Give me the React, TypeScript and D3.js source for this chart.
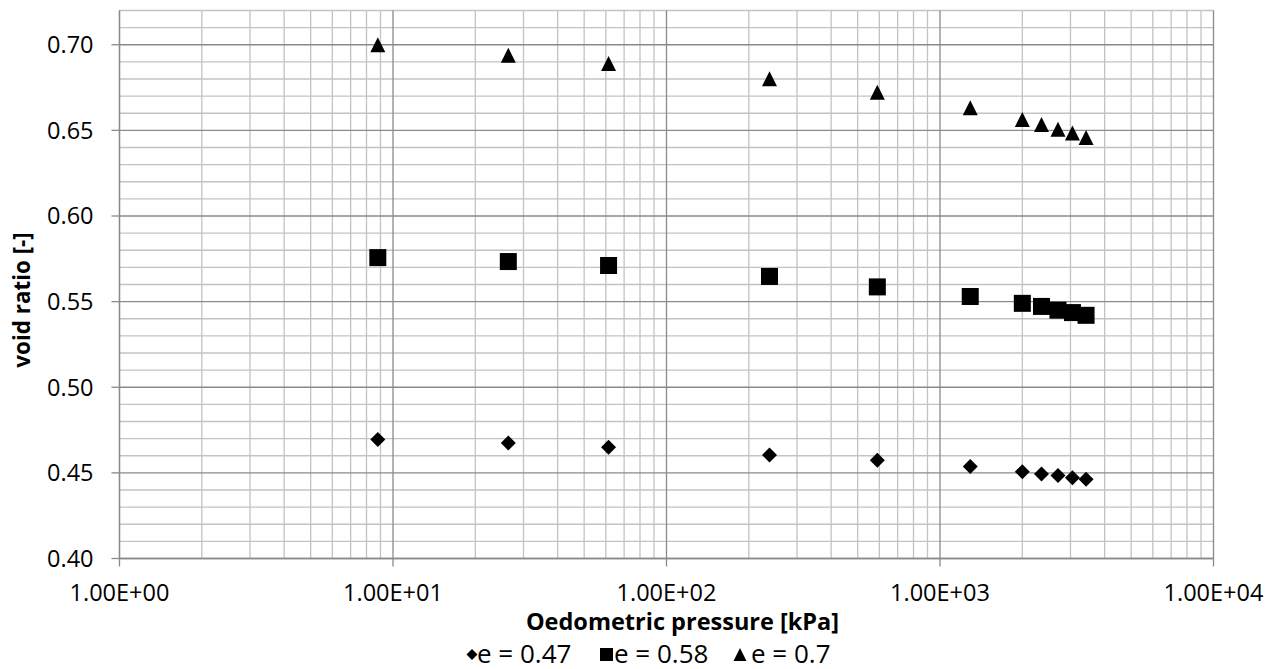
import React from "react";
import * as d3 from "d3";

// Oedometer loading steps [kPa]
const pressures = [8.8, 26.4, 61.4, 238, 590, 1290, 2000, 2350, 2700, 3050, 3420];

// Void ratio per loading step for each initial void ratio
const voidRatio047 = [0.4695, 0.4674, 0.465, 0.4605, 0.4574, 0.4537, 0.4507, 0.4494, 0.4485, 0.4472, 0.4463];
const voidRatio058 = [0.5757, 0.5734, 0.5711, 0.5647, 0.5586, 0.553, 0.549, 0.5472, 0.545, 0.5436, 0.542];
const voidRatio070 = [0.7, 0.6939, 0.689, 0.6802, 0.6722, 0.6632, 0.6564, 0.6535, 0.6506, 0.6484, 0.6458];

const seriesNames = ["e = 0.47", "e = 0.58", "e = 0.7"];
const yTickLabels = ["0.40", "0.45", "0.50", "0.55", "0.60", "0.65", "0.70"];
const xTickLabels = ["1.00E+00", "1.00E+01", "1.00E+02", "1.00E+03", "1.00E+04"];

const W = 1276;
const H = 669;
const left = 119.5;
const right = 1213.5;
const top = 10.5;
const bottom = 558.5;

const FONT = "'Open Sans', 'Liberation Sans', sans-serif";

type Shape = "diamond" | "square" | "triangle";

function Marker({ shape, x, y, s }: { shape: Shape; x: number; y: number; s: number }) {
  if (shape === "square") {
    return <rect x={x - s / 2} y={y - s / 2} width={s} height={s} fill="#000" />;
  }
  const h = s / 2;
  if (shape === "diamond") {
    return <path d={`M${x},${y - h}L${x + h},${y}L${x},${y + h}L${x - h},${y}Z`} fill="#000" />;
  }
  return <path d={`M${x},${y - h}L${x + h},${y + h}L${x - h},${y + h}Z`} fill="#000" />;
}

export default function App() {
  const x = d3.scaleLog().domain([1, 10000]).range([left, right]);
  const y = d3.scaleLinear().domain([0.4, 0.72]).range([bottom, top]);

  const xGrid = x.ticks();
  const yGrid = d3.range(0, 33).map((i) => +(0.4 + i * 0.01).toFixed(2));
  const isMajorX = (v: number) => Math.abs(Math.log10(v) - Math.round(Math.log10(v))) < 1e-9;
  const isMajorY = (v: number) => Math.abs(v * 20 - Math.round(v * 20)) < 1e-6;

  const series: { values: number[]; shape: Shape; size: number }[] = [
    { values: voidRatio047, shape: "diamond", size: 15 },
    { values: voidRatio058, shape: "square", size: 17 },
    { values: voidRatio070, shape: "triangle", size: 15 },
  ];

  const legendItems: { shape: Shape; mx: number; tx: number; size: number }[] = [
    { shape: "diamond", mx: 472, tx: 477, size: 11 },
    { shape: "square", mx: 606.5, tx: 614, size: 13 },
    { shape: "triangle", mx: 740, tx: 751, size: 13 },
  ];

  const grid = "#c3c3c3";
  const major = "#8a8a8a";

  return (
    <svg
      width={W}
      height={H}
      style={{ position: "absolute", left: 0, top: 0, background: "#fff" }}
      fontFamily={FONT}
    >
      {/* minor grid */}
      {yGrid.filter((v) => !isMajorY(v)).map((v) => (
        <line key={"ym" + v} x1={left} x2={right} y1={y(v)} y2={y(v)} stroke={grid} strokeWidth={1.3} />
      ))}
      {xGrid.filter((v) => !isMajorX(v)).map((v) => (
        <line key={"xm" + v} x1={x(v)} x2={x(v)} y1={top} y2={bottom} stroke={grid} strokeWidth={1.3} />
      ))}
      {/* major grid */}
      {yGrid.filter((v) => isMajorY(v)).map((v) => (
        <line key={"yM" + v} x1={left} x2={right} y1={y(v)} y2={y(v)} stroke={major} strokeWidth={1.3} />
      ))}
      {xGrid.filter((v) => isMajorX(v)).map((v) => (
        <line key={"xM" + v} x1={x(v)} x2={x(v)} y1={top} y2={bottom} stroke={major} strokeWidth={1.3} />
      ))}

      {/* axes with tick marks */}
      <line x1={left} x2={left} y1={top} y2={bottom} stroke={major} strokeWidth={1.3} />
      <line x1={left} x2={right} y1={bottom} y2={bottom} stroke={major} strokeWidth={1.3} />
      {yTickLabels.map((t) => (
        <g key={"yt" + t}>
          <line x1={left - 8} x2={left} y1={y(+t)} y2={y(+t)} stroke={major} strokeWidth={1.3} />
          <text x={93.5} y={y(+t)} dy="0.36em" textAnchor="end" fontSize={23.5} fill="#000">
            {t}
          </text>
        </g>
      ))}
      {xTickLabels.map((t) => (
        <g key={"xt" + t}>
          <line x1={x(+t)} x2={x(+t)} y1={bottom} y2={bottom + 8} stroke={major} strokeWidth={1.3} />
          <text x={x(+t)} y={600.5} textAnchor="middle" fontSize={23.5} fill="#000">
            {t}
          </text>
        </g>
      ))}

      {/* data markers */}
      {series.map((s, si) =>
        s.values.map((v, i) => (
          <Marker key={si + "-" + i} shape={s.shape} x={x(pressures[i])} y={y(v)} s={s.size} />
        ))
      )}

      {/* axis titles */}
      <text x={682.5} y={630} textAnchor="middle" fontSize={23.5} fontWeight="bold" fill="#000">
        Oedometric pressure [kPa]
      </text>
      <text
        transform={`translate(29.5,300) rotate(-90)`}
        textAnchor="middle"
        fontSize={22.4}
        fontWeight="bold"
        fill="#000"
      >
        void ratio [-]
      </text>

      {/* legend */}
      {legendItems.map((l, i) => (
        <g key={"lg" + i}>
          <Marker shape={l.shape} x={l.mx} y={654.5} s={l.size} />
          <text x={l.tx} y={662.5} fontSize={26} fill="#000">
            {seriesNames[i]}
          </text>
        </g>
      ))}
    </svg>
  );
}
